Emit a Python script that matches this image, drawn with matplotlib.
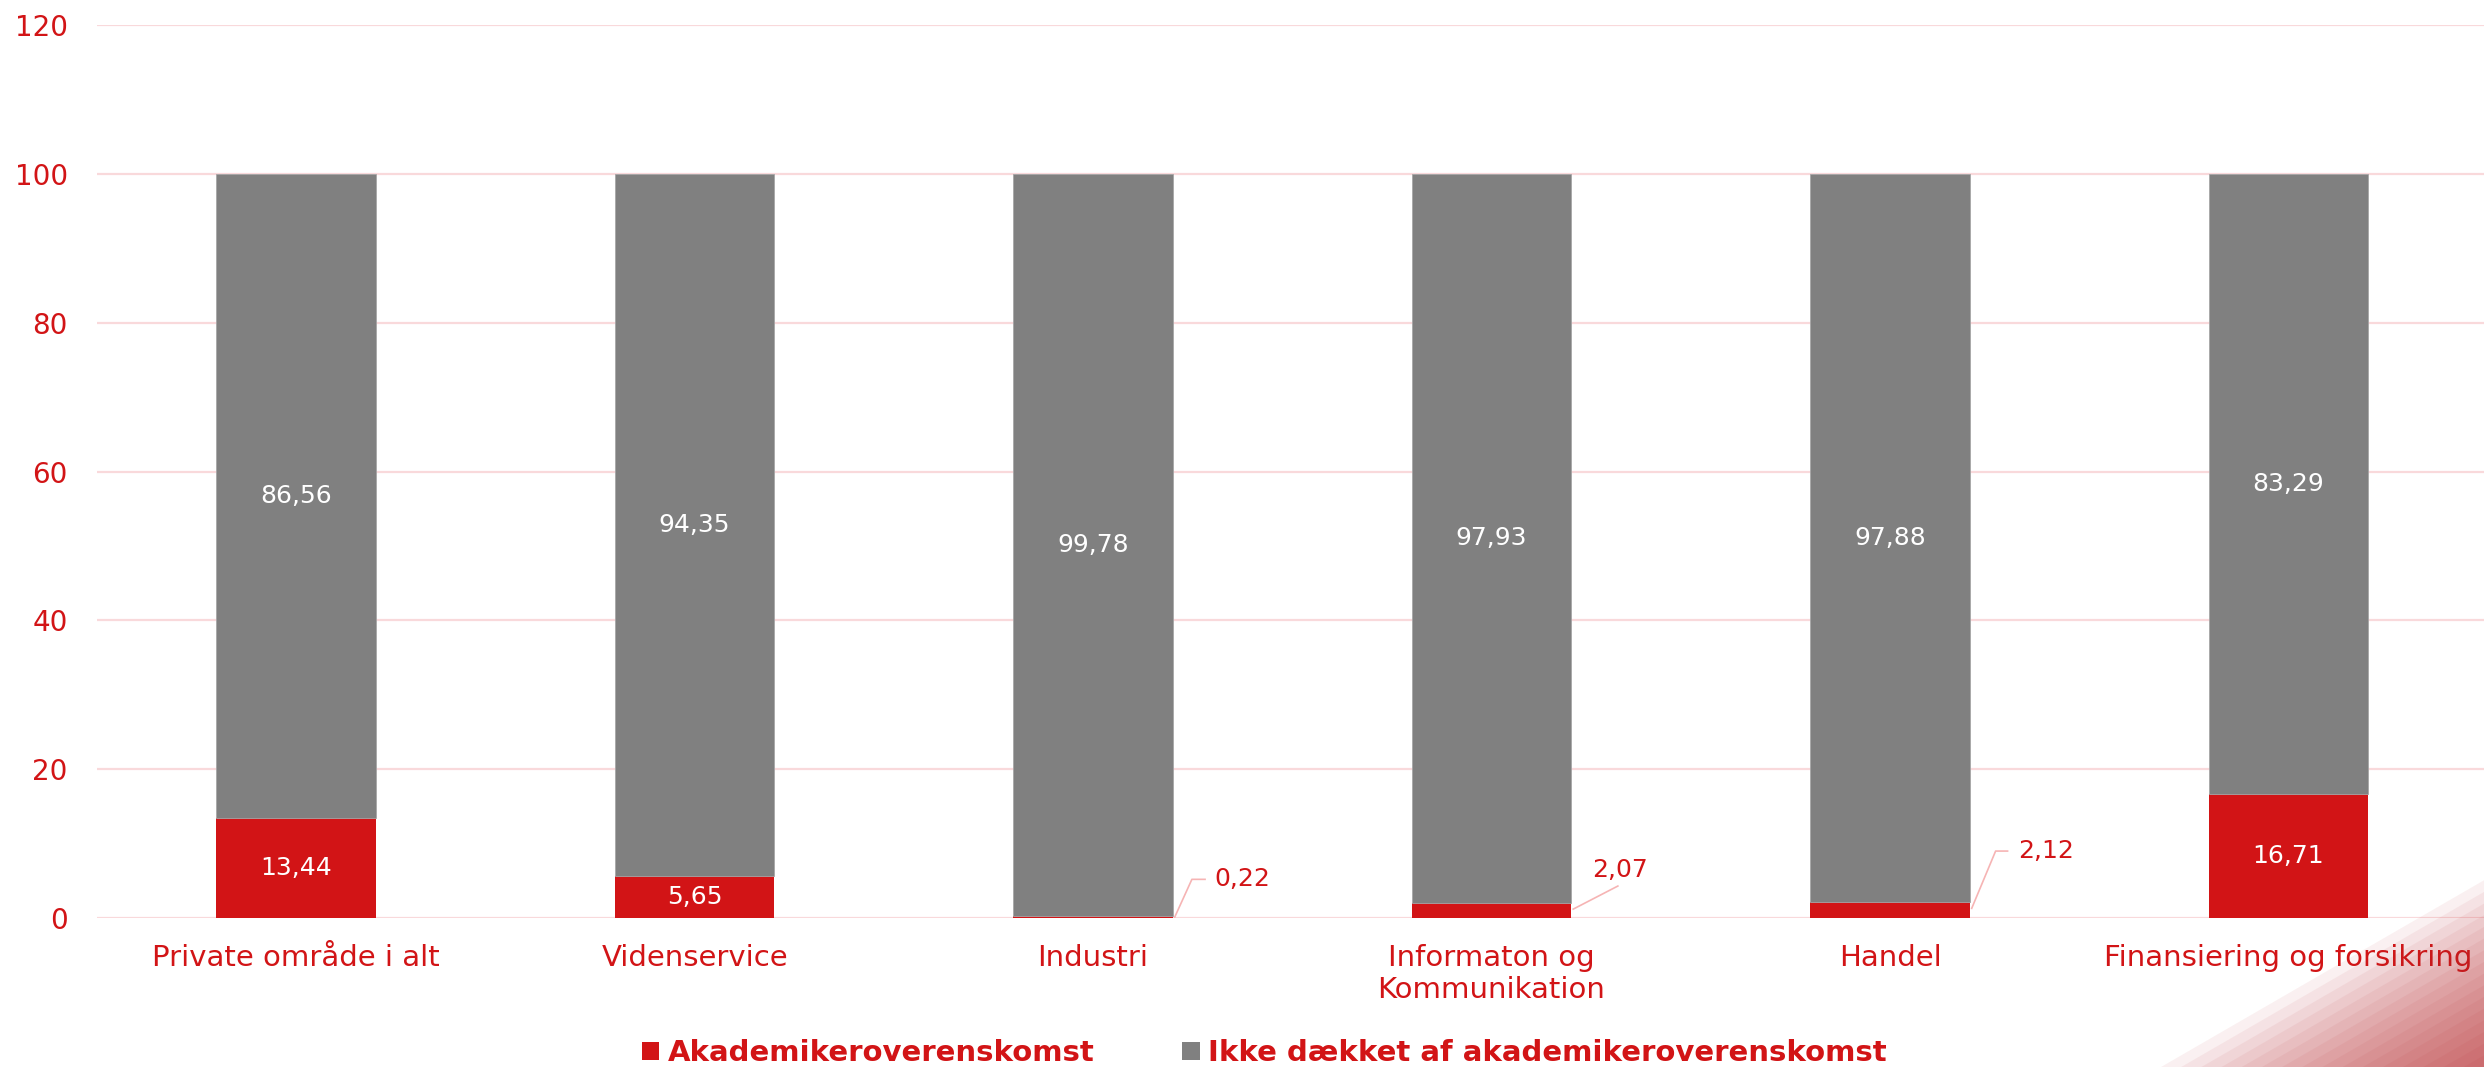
import numpy as np
import matplotlib
matplotlib.use('Agg')
import matplotlib.pyplot as plt
from matplotlib.patches import Patch, Polygon

#Data
categories = ['Private område i alt', 'Videnservice', 'Industri', 'Informaton og\nKommunikation', 'Handel', 'Finansiering og forsikring']
akademiker = [13.44, 5.65, 0.22, 2.07, 2.12, 16.71]
ikke_daekket = [86.56, 94.35, 99.78, 97.93, 97.88, 83.29]
series_names = ['Akademikeroverenskomst', 'Ikke dækket af akademikeroverenskomst']
yticks = [0, 20, 40, 60, 80, 100, 120]

red = '#D21416'
grey = '#808080'
grid_col = '#F9D9DB'
leader_col = '#F6B4B4'

plt.rcParams['font.family'] = ['DejaVu Sans']

fig = plt.figure(figsize=(24.84, 10.67), dpi=100)
ax = fig.add_axes([0.039, 0.1396, 0.9625, 0.837])

x = np.arange(len(categories))
w = 0.4

ax.bar(x, akademiker, w, color=red, zorder=3)
ax.bar(x, ikke_daekket, w, bottom=akademiker, color=grey, edgecolor='#A6A6A6', linewidth=0.6, zorder=3)

#labels inside bars (only where the red part is big enough)
def fmt(v):
	return ('%.2f' % v).replace('.', ',')

for i in range(len(categories)):
	ax.text(x[i], akademiker[i] + ikke_daekket[i]/2, fmt(ikke_daekket[i]), ha='center', va='center', color='white', fontsize=18, zorder=4)
	if akademiker[i] > 5:
		ax.text(x[i], akademiker[i]/2, fmt(akademiker[i]), ha='center', va='center', color='white', fontsize=18, zorder=4)

#callouts for the small red parts
callouts = {
	2: ([(2.205, 0.13), (2.248, 5.2), (2.281, 5.2)], (2.304, 5.2)),
	3: ([(3.205, 1.2), (3.317, 4.3)], (3.252, 6.5)),
	4: ([(4.205, 1.3), (4.265, 9.0), (4.295, 9.0)], (4.322, 9.0)),
}
for i, (pts, tpos) in callouts.items():
	px = [p[0] for p in pts]
	py = [p[1] for p in pts]
	ax.plot(px, py, color=leader_col, lw=1.2, zorder=4)
	ax.text(tpos[0], tpos[1], fmt(akademiker[i]), ha='left', va='center', color=red, fontsize=18, zorder=4)

ax.set_xlim(-0.5, len(categories) - 0.5)
ax.set_ylim(0, 120)
ax.set_yticks(yticks)
ax.set_xticks(x)
ax.set_xticklabels(categories, fontsize=21, color=red, linespacing=1.15)
ax.tick_params(axis='y', labelsize=20, labelcolor=red, length=0, pad=21)
ax.tick_params(axis='x', length=0, pad=19)
ax.grid(axis='y', color=grid_col, lw=1.6, zorder=0)
for s in ax.spines.values():
	s.set_visible(False)

#legend
handles = [Patch(facecolor=red), Patch(facecolor=grey)]
leg = fig.legend(handles, series_names, loc='lower center', bbox_to_anchor=(0.509, -0.025), ncol=2, frameon=False,
	handlelength=0.6, handleheight=0.6, handletextpad=0.3, columnspacing=3.0, prop={'weight': 'bold', 'size': 21})
for t in leg.get_texts():
	t.set_color(red)

#corner decoration, nested triangles
n = 16
for k in range(n):
	t = 1.0 - k/n
	tri = Polygon([(1, 0), (1 - 0.13*t, 0), (1, 0.175*t)], closed=True, transform=fig.transFigure,
		facecolor='#B82A2E', edgecolor='none', alpha=0.065, zorder=0)
	fig.patches.append(tri)

fig.savefig('out.png', dpi=100)
